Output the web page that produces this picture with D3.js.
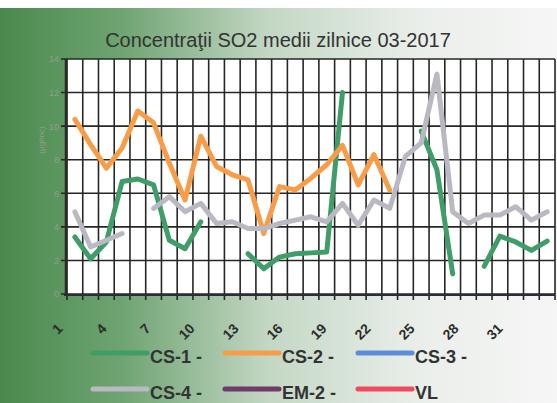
<!DOCTYPE html>
<html>
<head>
<meta charset="utf-8">
<script src="https://cdn.jsdelivr.net/npm/d3@7/dist/d3.min.js"></script>
<style>
  body { margin: 0; background: #fff; }
  svg { display: block; font-family: "Liberation Sans", Arial, sans-serif; }
</style>
</head>
<body>
<div id="chart"></div>
<script>
// daily SO2 means, march 2017 (null = no measurement)
const days = d3.range(1, 32);
const cs1 = [3.4, 2.1, 3.1, 6.7, 6.85, 6.5, 3.2, 2.7, 4.3, null, null, 2.4, 1.5, 2.2, 2.4, 2.45, 2.5, 12.0,
             null, null, null, null, 9.7, 7.4, 1.2, null, 1.65, 3.45, 3.1, 2.6, 3.15];
const cs2 = [10.4, 8.9, 7.5, 8.7, 10.9, 10.2, 7.8, 5.6, 9.4, 7.6, 7.1, 6.8, 3.6, 6.4, 6.2, 6.9, 7.7, 8.85,
             6.5, 8.3, 6.2, null, null, null, null, null, null, null, null, null, null];
const cs3 = [];
const cs4 = [4.9, 2.8, 3.2, 3.6, null, 5.1, 5.8, 4.9, 5.4, 4.2, 4.3, 3.9, 3.9, 4.2, 4.4, 4.6, 4.3, 5.4,
             4.1, 5.6, 5.1, 8.2, 9.0, 13.1, 4.9, 4.2, 4.7, 4.7, 5.2, 4.4, 4.9];
const em2 = [];
const vl = [];

const seriesNames = ["CS-1", "CS-2", "CS-3", "CS-4", "EM-2", "VL"];
const seriesData = [cs1, cs2, cs3, cs4, em2, vl];
const colors = ["#3f9d68", "#f89c48", "#5b8ddb", "#bab8c2", "#6e3b6a", "#ef4b5e"];

const yTicks = [0, 2, 4, 6, 8, 10, 12, 14];
const xLabelDays = [1, 4, 7, 10, 13, 16, 19, 22, 25, 28, 31];

const width = 557, height = 403;

const svg = d3.select("#chart").append("svg")
    .attr("width", width)
    .attr("height", height);

// background panel, green fading to grey
const grad = svg.append("defs").append("linearGradient")
    .attr("id", "bg").attr("x1", 0).attr("x2", 1).attr("y1", 0).attr("y2", 0);
grad.append("stop").attr("offset", "0%").attr("stop-color", "#4a894d");
grad.append("stop").attr("offset", "22%").attr("stop-color", "#6fa472");
grad.append("stop").attr("offset", "48%").attr("stop-color", "#c3d7c4");
grad.append("stop").attr("offset", "75%").attr("stop-color", "#eaeeea");
grad.append("stop").attr("offset", "100%").attr("stop-color", "#f6f6f6");

svg.append("rect")
    .attr("x", 0).attr("y", 8)
    .attr("width", width).attr("height", height - 8)
    .attr("fill", "url(#bg)");

svg.append("text")
    .attr("x", 278).attr("y", 47)
    .attr("text-anchor", "middle")
    .attr("font-size", 20)
    .attr("fill", "#333")
    .text("Concentraţii SO2 medii zilnice 03-2017");

// scales
const x = d3.scaleBand().domain(days).range([67, 555]).padding(0);
const y = d3.scaleLinear().domain([0, 14]).range([294, 59]);
const cx = d => x(d) + x.bandwidth() / 2;

// plot area
svg.append("rect")
    .attr("x", 67).attr("y", 59)
    .attr("width", 488).attr("height", 235)
    .attr("fill", "#fff");

const grid = svg.append("g").attr("stroke", "#262626").attr("stroke-width", 1.6);

grid.selectAll(".vg").data(days.concat([32]))
  .enter().append("line")
    .attr("x1", d => d <= 31 ? x(d) : x(31) + x.bandwidth())
    .attr("x2", d => d <= 31 ? x(d) : x(31) + x.bandwidth())
    .attr("y1", 59).attr("y2", 300);

grid.selectAll(".hg").data(yTicks)
  .enter().append("line")
    .attr("x1", 61).attr("x2", 555)
    .attr("y1", d => y(d)).attr("y2", d => y(d));

// left axis line a bit heavier
svg.append("line")
    .attr("x1", 66).attr("x2", 66).attr("y1", 59).attr("y2", 296)
    .attr("stroke", "#2a2a2a").attr("stroke-width", 2.5);
svg.append("line")
    .attr("x1", 64).attr("x2", 555).attr("y1", 295).attr("y2", 295)
    .attr("stroke", "#2b2b3a").attr("stroke-width", 2);

// y tick labels
const yAxis = svg.append("g")
    .attr("transform", "translate(61,0)")
    .call(d3.axisLeft(y).tickValues(yTicks).tickSize(0).tickPadding(2));
yAxis.select(".domain").remove();
yAxis.selectAll("text")
    .attr("font-size", 9)
    .attr("font-family", "Liberation Sans, Arial, sans-serif")
    .attr("fill", "#8e9f8e");

svg.append("text")
    .attr("transform", "translate(44,140) rotate(-90)")
    .attr("text-anchor", "middle")
    .attr("font-size", 8)
    .attr("fill", "#8ea08e")
    .text("(µg/mc)");

// x labels, rotated
const xl = d3.scaleLinear().domain([1, 31]).range([59.5, 499.5]);
const xAxis = svg.append("g")
    .attr("transform", "translate(0,326)")
    .call(d3.axisBottom(xl).tickValues(xLabelDays).tickSize(0).tickFormat(d3.format("d")));
xAxis.select(".domain").remove();
xAxis.selectAll("text")
    .attr("y", 0).attr("dy", "0.35em")
    .attr("text-anchor", "end")
    .attr("transform", "rotate(-45)")
    .attr("font-size", 14)
    .attr("font-weight", "bold")
    .attr("font-family", "Liberation Sans, Arial, sans-serif")
    .attr("fill", "#2c2c2c");

// lines
const line = d3.line()
    .defined(d => d.v != null)
    .x(d => cx(d.day))
    .y(d => y(d.v));

seriesData.forEach((vals, i) => {
  if (!vals.length) return;
  svg.append("path")
      .datum(vals.map((v, j) => ({day: days[j], v: v})))
      .attr("fill", "none")
      .attr("stroke", colors[i])
      .attr("stroke-width", 5)
      .attr("stroke-linejoin", "round")
      .attr("stroke-linecap", "round")
      .attr("d", line);
});

// legend: 2 rows x 3 columns
const legX = [93, 225, 358];
const legY = [353, 389];
const leg = svg.append("g").selectAll("g").data(seriesNames)
  .enter().append("g")
    .attr("transform", (d, i) => "translate(" + legX[i % 3] + "," + legY[Math.floor(i / 3)] + ")");

leg.append("line")
    .attr("x1", 0).attr("x2", 54)
    .attr("stroke", (d, i) => colors[i])
    .attr("stroke-width", 5)
    .attr("stroke-linecap", "round");

leg.append("text")
    .attr("x", 57).attr("y", 10)
    .attr("font-size", 18)
    .attr("font-weight", "bold")
    .attr("fill", "#333")
    .text(d => d === "VL" ? d : d + " -");
</script>
</body>
</html>
